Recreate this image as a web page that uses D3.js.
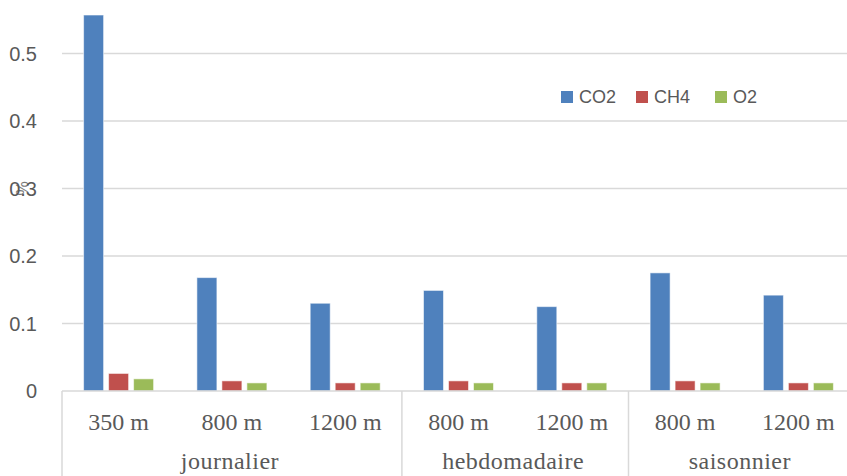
<!DOCTYPE html>
<html>
<head>
<meta charset="utf-8">
<script src="https://cdn.jsdelivr.net/npm/d3@7"></script>
<style>
  html, body { margin: 0; padding: 0; background: #fff; }
  svg { display: block; }
</style>
</head>
<body>
<svg id="chart" width="847" height="476"></svg>
<script>
// Categories: distance labels, grouped by sampling period
const categories = ["350 m", "800 m", "1200 m", "800 m", "1200 m", "800 m", "1200 m"];
const groups = ["journalier", "journalier", "journalier", "hebdomadaire", "hebdomadaire", "saisonnier", "saisonnier"];
const seriesNames = ["CO2", "CH4", "O2"];
const co2 = [0.557, 0.168, 0.130, 0.149, 0.125, 0.175, 0.142];
const ch4 = [0.026, 0.015, 0.012, 0.015, 0.012, 0.015, 0.012];
const o2  = [0.018, 0.012, 0.012, 0.012, 0.012, 0.012, 0.012];
const yTicks = [0, 0.1, 0.2, 0.3, 0.4, 0.5];
const colors = ["#4f81bd", "#c0504d", "#9bbb59"];

const svg = d3.select("#chart");
const W = 847, H = 476;
const left = 62, bandW = 113.3;
const baseY = 391, pxPerUnit = 675;

const x = d3.scaleBand().domain(d3.range(categories.length))
  .range([left, left + bandW * categories.length]).padding(0);
const xInner = d3.scaleBand().domain(seriesNames)
  .range([21.6, 91.6]).paddingInner(0.2).paddingOuter(0);
const y = d3.scaleLinear().domain([0, 0.6]).range([baseY, baseY - 0.6 * pxPerUnit]);

const gridColor = "#d9d9d9";
const textColor = "#595959";

// horizontal gridlines
svg.append("g").selectAll("line").data(yTicks.filter(d => d > 0)).join("line")
  .attr("x1", left).attr("x2", W)
  .attr("y1", d => y(d)).attr("y2", d => y(d))
  .attr("stroke", gridColor).attr("stroke-width", 1.3);

// y tick labels
svg.append("g").selectAll("text").data(yTicks).join("text")
  .attr("x", 37).attr("y", d => y(d)).attr("dy", "0.36em")
  .attr("text-anchor", "end")
  .attr("font-family", "Liberation Sans, Arial, sans-serif")
  .attr("font-size", 20).attr("fill", textColor)
  .text(d => d === 0 ? "0" : d3.format(".1f")(d));

// y-axis unit, rotated, sitting over the 0.3 label
svg.append("text")
  .attr("transform", `translate(22,${y(0.3)}) rotate(-90)`)
  .attr("text-anchor", "middle").attr("dy", "0.36em")
  .attr("font-family", "Liberation Sans, Arial, sans-serif")
  .attr("font-size", 16).attr("fill", textColor).attr("opacity", 0.8)
  .text("%");

// bars
const rows = categories.map((c, i) => ({ i, vals: [co2[i], ch4[i], o2[i]] }));
const gBars = svg.append("g");
rows.forEach(r => {
  gBars.selectAll(null).data(seriesNames.map((s, k) => ({ s, k, v: r.vals[k] }))).join("rect")
    .attr("x", d => x(r.i) + xInner(d.s))
    .attr("width", xInner.bandwidth())
    .attr("y", d => y(d.v))
    .attr("height", d => y(0) - y(d.v))
    .attr("fill", d => colors[d.k])
    .attr("stroke", "rgba(255,255,255,0.55)").attr("stroke-width", 1);
});

// x axis baseline
svg.append("line").attr("x1", left).attr("x2", W).attr("y1", baseY).attr("y2", baseY)
  .attr("stroke", gridColor).attr("stroke-width", 1.5);

// group separators (multi-level axis)
const boundaries = [0];
groups.forEach((g, i) => { if (i > 0 && g !== groups[i - 1]) boundaries.push(i); });
boundaries.push(groups.length);
svg.append("g").selectAll("line").data(boundaries).join("line")
  .attr("x1", d => x.range()[0] + d * x.step()).attr("x2", d => x.range()[0] + d * x.step())
  .attr("y1", baseY).attr("y2", H)
  .attr("stroke", gridColor).attr("stroke-width", 1.5);

// category labels
svg.append("g").selectAll("text").data(categories).join("text")
  .attr("x", (d, i) => x(i) + x.bandwidth() / 2).attr("y", 430)
  .attr("text-anchor", "middle")
  .attr("font-family", "Liberation Serif, Times New Roman, serif")
  .attr("font-size", 24).attr("fill", textColor)
  .text(d => d);

// group labels
const groupSpans = [];
for (let b = 0; b < boundaries.length - 1; b++) {
  groupSpans.push({ name: groups[boundaries[b]], a: boundaries[b], z: boundaries[b + 1] });
}
svg.append("g").selectAll("text").data(groupSpans).join("text")
  .attr("x", d => x.range()[0] + (d.a + d.z) / 2 * x.step() - 2)
  .attr("y", 469)
  .attr("text-anchor", "middle")
  .attr("font-family", "Liberation Serif, Times New Roman, serif")
  .attr("font-size", 24).attr("letter-spacing", 0.5).attr("fill", textColor)
  .text(d => d.name);

// legend
const legendX = [561, 636, 715];
const lg = svg.append("g");
seriesNames.forEach((s, k) => {
  lg.append("rect").attr("x", legendX[k]).attr("y", 91).attr("width", 12).attr("height", 12)
    .attr("fill", colors[k]);
  lg.append("text").attr("x", legendX[k] + 18).attr("y", 97).attr("dy", "0.36em")
    .attr("font-family", "Liberation Sans, Arial, sans-serif")
    .attr("font-size", 18).attr("fill", textColor)
    .text(s);
});
</script>
</body>
</html>
